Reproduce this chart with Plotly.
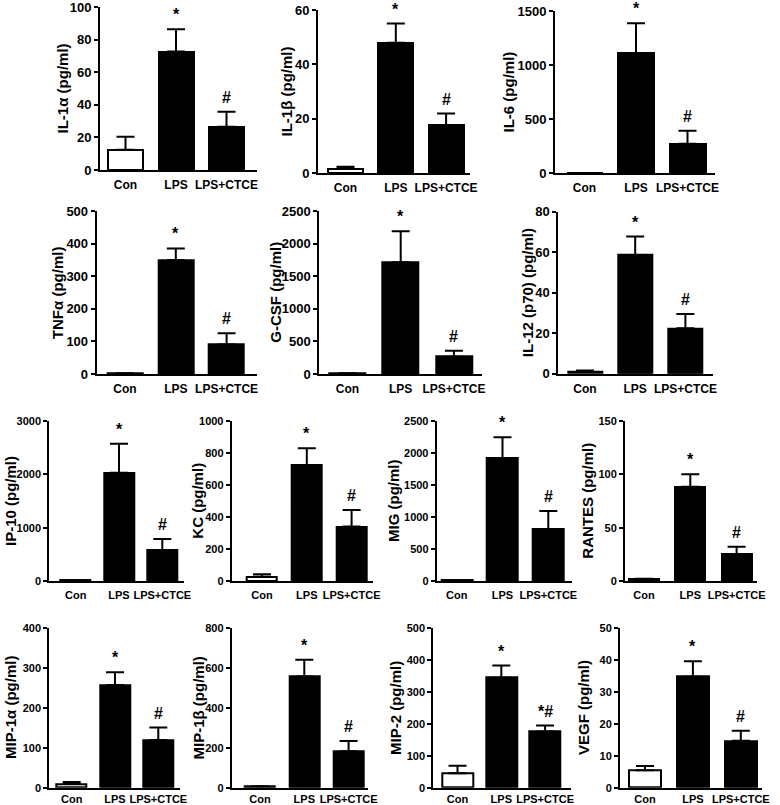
import plotly.graph_objects as go

# ---------------- data ----------------
categories = ["Con", "LPS", "LPS+CTCE"]

titles = ["IL-1α (pg/ml)", "IL-1β (pg/ml)", "IL-6 (pg/ml)",
          "TNFα (pg/ml)", "G-CSF (pg/ml)", "IL-12 (p70) (pg/ml)",
          "IP-10 (pg/ml)", "KC (pg/ml)", "MIG (pg/ml)", "RANTES (pg/ml)",
          "MIP-1α (pg/ml)", "MIP-1β (pg/ml)", "MIP-2 (pg/ml)", "VEGF (pg/ml)"]

il1a_mean = [12.4, 72.7, 26.5];   il1a_sem = [8.0, 13.6, 9.2]
il1b_mean = [1.6, 47.9, 17.6];    il1b_sem = [0.7, 7.1, 4.3]
il6_mean = [0, 1109, 271];        il6_sem = [0, 277, 120]
tnfa_mean = [2, 350, 91];         tnfa_sem = [0, 36, 34]
gcsf_mean = [10, 1718, 265];      gcsf_sem = [0, 475, 92]
il12_mean = [0.8, 58.6, 22.4];    il12_sem = [0.8, 9.1, 7.1]
ip10_mean = [10, 2031, 575];      ip10_sem = [0, 544, 212]
kc_mean = [27, 725, 340];         kc_sem = [15, 104, 104]
mig_mean = [10, 1917, 812];       mig_sem = [0, 328, 282]
rantes_mean = [2, 88.4, 25];      rantes_sem = [0, 11.6, 7.2]
mip1a_mean = [9, 258, 120];       mip1a_sem = [5, 32, 31]
mip1b_mean = [7, 558, 183];       mip1b_sem = [0, 84, 52]
mip2_mean = [45, 345, 176];       mip2_sem = [24, 38, 19]
vegf_mean = [5.5, 34.8, 14.7];    vegf_sem = [1.3, 4.9, 3.2]

means = [il1a_mean, il1b_mean, il6_mean, tnfa_mean, gcsf_mean, il12_mean,
         ip10_mean, kc_mean, mig_mean, rantes_mean, mip1a_mean, mip1b_mean,
         mip2_mean, vegf_mean]
sems = [il1a_sem, il1b_sem, il6_sem, tnfa_sem, gcsf_sem, il12_sem,
        ip10_sem, kc_sem, mig_sem, rantes_sem, mip1a_sem, mip1b_sem,
        mip2_sem, vegf_sem]

y_max = [100, 60, 1500, 500, 2500, 80, 3000, 1000, 2500, 150, 400, 800, 500, 50]
y_dtick = [20, 20, 500, 100, 500, 20, 1000, 200, 500, 50, 100, 200, 100, 10]

lps_marks = ["*"] * 14
ctce_marks = ["#"] * 12 + ["*#", "#"]

# ---------------- layout geometry (pixels) ----------------
W, H = 780, 805
# x_axis_start, x_axis_end, con_center, spacing, bar_px, y_top, y_zero, title_x
geom = [
    (100, 257, 125.5, 50.5, 35, 7, 170, 62),
    (318, 470, 345.5, 50.3, 35, 10, 173, 286),
    (555, 715, 584.5, 51.5, 36, 11, 173, 507.5),
    (96.7, 257, 125, 50.8, 35, 211.3, 374, 57.5),
    (319.3, 481.7, 347.5, 53.2, 36, 211.3, 374, 276),
    (558.3, 713, 585, 50.2, 34, 211.7, 373.7, 527.5),
    (49.3, 184, 75.7, 43.3, 30, 421, 581, 10),
    (231.7, 373, 262, 44.8, 30, 421, 581, 196.7),
    (436.7, 571.7, 456.7, 45.8, 31, 421, 581, 393),
    (625, 756.7, 644, 46.3, 30, 421, 581, 586.7),
    (49.3, 180, 71.7, 43.3, 30, 628.3, 787.7, 10),
    (231.7, 368, 260, 44.3, 30, 628.3, 787.7, 197.5),
    (433.3, 571, 457.5, 43.8, 31, 628.3, 787.7, 395),
    (620, 761.7, 645, 47.9, 32, 628.3, 787.7, 583),
]

FONT = "Arial, Liberation Sans, sans-serif"

fig = go.Figure()
layout = {}
annotations = []

for i in range(14):
    n = i + 1
    xs = "x" if n == 1 else f"x{n}"
    ys = "y" if n == 1 else f"y{n}"
    x0, x1, c0, sp, bpx, yt, yb, tx = geom[i]
    lo = -(c0 - x0) / sp
    hi = lo + (x1 - x0) / sp
    big = i < 6
    tick_size = 13 if big else 11
    cat_size = 12 if big else 11
    standoff = 0 if i >= 10 else 3

    fig.add_trace(go.Bar(
        x=[0, 1, 2], y=means[i], width=bpx / sp,
        marker=dict(color=["white", "black", "black"],
                    line=dict(color="black", width=2)),
        error_y=dict(type="data", symmetric=False, array=sems[i],
                     arrayminus=[0, 0, 0], color="black", thickness=2, width=9),
        xaxis=xs, yaxis=ys, showlegend=False, hoverinfo="skip"))

    layout["xaxis" if n == 1 else f"xaxis{n}"] = dict(
        domain=[x0 / W, x1 / W], range=[lo, hi], anchor=ys,
        automargin=False, tickangle=0, ticklabeloverflow="allow",
        tickmode="array", tickvals=[0, 1, 2], ticktext=categories,
        showline=True, linecolor="black", linewidth=2, ticks="",
        showgrid=False, zeroline=False, ticklabelstandoff=standoff,
        tickfont=dict(family=FONT, size=cat_size, color="black", weight="bold"))
    layout["yaxis" if n == 1 else f"yaxis{n}"] = dict(
        domain=[1 - yb / H, 1 - yt / H], range=[0, y_max[i]], anchor=xs,
        automargin=False, ticklabeloverflow="allow",
        tick0=0, dtick=y_dtick[i], showline=True, linecolor="black",
        linewidth=2, ticks="outside", ticklen=4, tickwidth=2,
        tickcolor="black", showgrid=False, zeroline=False,
        tickfont=dict(family=FONT, size=tick_size, color="black", weight="bold"))

    annotations.append(dict(
        x=tx / W, y=1 - (yt + yb) / 2 / H, xref="paper", yref="paper",
        text=titles[i], textangle=-90, showarrow=False,
        xanchor="center", yanchor="middle",
        font=dict(family=FONT, size=15, color="black", weight="bold")))

    for k, mk in ((1, lps_marks[i]), (2, ctce_marks[i])):
        annotations.append(dict(
            x=k, y=means[i][k] + sems[i][k], xref=xs, yref=ys,
            text=mk, showarrow=False, xanchor="center", yanchor="bottom",
            yshift=4,
            font=dict(family=FONT, size=16, color="black", weight="bold")))

fig.update_layout(**layout)
fig.update_layout(
    template="none",
    width=W, height=H, margin=dict(l=0, r=0, t=0, b=0),
    paper_bgcolor="white", plot_bgcolor="white",
    annotations=annotations, bargap=0)

fig.write_html("out.html",
               config={"displayModeBar": False},
               post_script="document.body.style.margin='0';"
                           "document.body.style.overflow='hidden';")
